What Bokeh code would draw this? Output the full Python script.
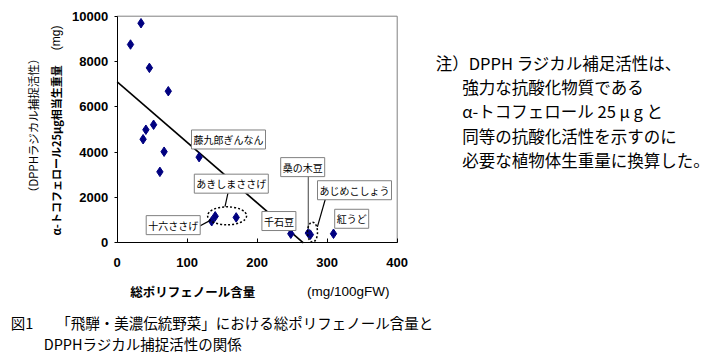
import math
from bokeh.plotting import figure
from bokeh.models import Range1d, FixedTicker, Label, ColumnDataSource, LinearAxis
from bokeh.embed import file_html
from bokeh.resources import INLINE

# ---- data ----
polyphenol = [19, 34, 46, 73, 52, 41, 37, 67, 61, 117, 140, 135, 170, 248, 273, 276, 309]
dpph_weight = [8750, 9690, 7720, 6690, 5210, 4990, 4570, 4020, 3130, 3780, 1170, 950, 1120, 400, 430, 360, 400]

reg_intercept = 7100
reg_slope = -26.7

x_ticks = [0, 100, 200, 300, 400]
y_ticks = [0, 2000, 4000, 6000, 8000, 10000]

callout_names = ["藤九郎ぎんなん", "あきしまささげ", "十六ささげ", "千石豆", "桑の木豆", "あじめこしょう", "紅うど"]
callout_x = [159, 163, 80, 231, 265, 339, 335]
callout_y = [4560, 2610, 780, 960, 3340, 2320, 1060]

note_lines = [
    "注）DPPH ラジカル補足活性は、",
    "強力な抗酸化物質である",
    "α-トコフェロール 25 μ g と",
    "同等の抗酸化活性を示すのに",
    "必要な植物体生重量に換算した。",
]

JP = "Noto Sans CJK JP"

# ---- canvas geometry: the whole canvas is the frame, axes are fixed inside it ----
W, H = 718, 354
X0_PX, X_PX_PER_UNIT = 116.7, 280 / 400      # data x=0 at this canvas px
Y0_PX, Y_PX_PER_UNIT = 242.3, 226.6 / 10000  # data y=0 at this canvas px (from top)
x_start = -X0_PX / X_PX_PER_UNIT
x_end = x_start + W / X_PX_PER_UNIT
y_end = Y0_PX / Y_PX_PER_UNIT
y_start = y_end - H / Y_PX_PER_UNIT

p = figure(frame_width=W, frame_height=H,
           min_border_left=0, min_border_right=0, min_border_top=0, min_border_bottom=0,
           x_range=Range1d(x_start, x_end), y_range=Range1d(y_start, y_end),
           x_axis_location=None, y_axis_location=None,
           output_backend="svg", toolbar_location=None)
p.background_fill_color = "white"
p.border_fill_color = "white"
p.outline_line_color = None
p.xgrid.visible = False
p.ygrid.visible = False

xax = LinearAxis(fixed_location=0, bounds=(x_ticks[0], x_ticks[-1]), ticker=FixedTicker(ticks=x_ticks))
yax = LinearAxis(fixed_location=0, bounds=(y_ticks[0], y_ticks[-1]), ticker=FixedTicker(ticks=y_ticks))
for ax in (xax, yax):
    ax.axis_line_color = "black"
    ax.axis_line_width = 1
    ax.major_tick_line_color = "black"
    ax.minor_tick_line_color = None
    ax.major_label_text_font = "Liberation Sans"
    ax.major_label_text_font_style = "bold"
    ax.major_label_text_font_size = "13px"
    ax.major_label_text_color = "black"
xax.major_tick_in = 4
xax.major_tick_out = 0
xax.major_label_standoff = 15
yax.major_tick_in = 0
yax.major_tick_out = 3
yax.major_label_standoff = 6
p.add_layout(xax, "below")
p.add_layout(yax, "left")

# gray top/right border of plot area
p.segment(x0=[x_ticks[0], x_ticks[-1]], y0=[y_ticks[-1], y_ticks[-1]],
          x1=[x_ticks[-1], x_ticks[-1]], y1=[y_ticks[-1], y_ticks[0]],
          line_color="#808080", line_width=1)

# regression line
x_zero = -reg_intercept / reg_slope
line_x = [0, x_zero]
line_y = [reg_intercept + reg_slope * v for v in line_x]
p.line(line_x, line_y, line_color="black", line_width=1.6)

# points
src = ColumnDataSource(dict(x=polyphenol, y=dpph_weight))
p.scatter("x", "y", source=src, marker="diamond", size=9.5,
          fill_color="#000080", line_color="#000080")

# leader lines and dotted ellipses (annotation geometry)
p.segment(x0=[159, 118, 273, 298], y0=[2300, 740, 3060, 2000],
          x1=[154, 133, 273, 286], y1=[1600, 990, 590, 700],
          line_color=["black", "black", "#606060", "black"], line_width=1.2)
p.ellipse(x=[157, 279], y=[1190, 470], width=[39, 10], height=[18, 20],
          width_units="screen", height_units="screen",
          fill_color=None, line_color="black", line_width=1.5, line_dash="2 2")

for name, cx, cy in zip(callout_names, callout_x, callout_y):
    p.add_layout(Label(x=cx, y=cy, text=name, text_align="center", text_baseline="middle",
                       text_font=JP, text_font_size="10px", text_color="black",
                       background_fill_color="white", border_line_color="#808080",
                       border_line_width=1, padding=2))

# axis titles
p.add_layout(Label(x=108, y=-2150, text="総ポリフェノール含量", text_align="center",
                   text_baseline="middle", text_font=JP, text_font_size="12.5px",
                   text_font_style="bold", text_color="black"))
p.add_layout(Label(x=330, y=-2150, text="(mg/100gFW)", text_align="center",
                   text_baseline="middle", text_font="Liberation Sans", text_font_size="13.5px",
                   text_color="black"))
p.add_layout(Label(x=-121, y=5180, text="（DPPHラジカル捕捉活性）", angle=math.pi / 2,
                   text_align="center", text_baseline="middle", text_font=JP,
                   text_font_size="11.5px", text_color="black"))
p.add_layout(Label(x=-88, y=4080, text="α-トコフェロール25μg相当生重量", angle=math.pi / 2,
                   text_align="center", text_baseline="middle", text_font=JP,
                   text_font_size="11px", text_font_style="bold", text_color="black"))
p.add_layout(Label(x=-88, y=9040, text="(mg)", angle=math.pi / 2,
                   text_align="center", text_baseline="middle", text_font="Liberation Sans",
                   text_font_size="12px", text_color="black"))

# note text on the right
note_x = [455, 493, 493, 493, 493]
note_y = [7926, 6867, 5808, 4735, 3676]
for t, nx, ny in zip(note_lines, note_x, note_y):
    p.add_layout(Label(x=nx, y=ny, text=t, text_align="left", text_baseline="middle",
                       text_font=JP, text_font_size="16.5px", text_color="black"))

# caption
p.add_layout(Label(x=-152, y=-3520, text="図1", text_align="left", text_baseline="middle",
                   text_font=JP, text_font_size="14.5px", text_color="black"))
p.add_layout(Label(x=-87, y=-3520, text="「飛騨・美濃伝統野菜」における総ポリフェノール含量と",
                   text_align="left", text_baseline="middle",
                   text_font=JP, text_font_size="14.5px", text_color="black"))
p.add_layout(Label(x=-105, y=-4445, text="DPPHラジカル捕捉活性の関係",
                   text_align="left", text_baseline="middle",
                   text_font=JP, text_font_size="14.5px", text_color="black"))

open("out.html", "w").write(file_html(p, INLINE))
